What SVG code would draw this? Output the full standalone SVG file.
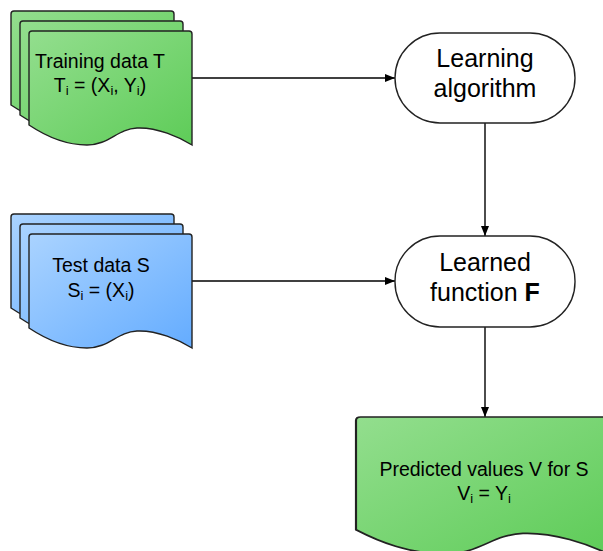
<svg xmlns="http://www.w3.org/2000/svg" width="603" height="551" viewBox="0 0 603 551">
  <defs>
    <linearGradient id="gGreen" x1="0" y1="0" x2="1" y2="1">
      <stop offset="0" stop-color="#93de8e"/>
      <stop offset="1" stop-color="#5ecc58"/>
    </linearGradient>
    <linearGradient id="gBlue" x1="0" y1="0" x2="1" y2="1">
      <stop offset="0" stop-color="#aad3ff"/>
      <stop offset="1" stop-color="#64acff"/>
    </linearGradient>
    <!-- document shape with wavy bottom, 163 x 114 -->
    <path id="doc" d="M0,3 Q0,0 3,0 H160 Q163,0 163,3 V114 C150,106 128,96 108,97 C88,98 80,114 58,114 C34,114 15,104 0,94 Z"/>
    <marker id="arrow" viewBox="0 0 10 10" refX="10" refY="5" markerWidth="10" markerHeight="10" markerUnits="userSpaceOnUse" orient="auto">
      <path d="M0,1 L10,5 L0,9 Z" fill="#000"/>
    </marker>
  </defs>
  <style>
    .doc { stroke: #222; stroke-width: 1.4; vector-effect: non-scaling-stroke; }
    .term { fill: #fff; stroke: #222; stroke-width: 1.4; }
    .conn { fill: none; stroke: #000; stroke-width: 1.4; marker-end: url(#arrow); }
    text { font-family: "Liberation Sans", Arial, sans-serif; fill: #000; text-anchor: middle; }
    .t19 { font-size: 19.5px; }
    .t24 { font-size: 25px; }
    .sub { font-size: 13px; }
  </style>

  <g id="connectors">
    <path class="conn" d="M192,78 H395"/>
    <path class="conn" d="M192,281 H395"/>
    <path class="conn" d="M485,123 V236"/>
    <path class="conn" d="M485,327 V417"/>
  </g>

  <g id="training-data">
    <use href="#doc" class="doc" fill="url(#gGreen)" transform="translate(11,11)"/>
    <use href="#doc" class="doc" fill="url(#gGreen)" transform="translate(20,21)"/>
    <use href="#doc" class="doc" fill="url(#gGreen)" transform="translate(29,31)"/>
    <text class="t19" x="100" y="68">Training data T</text>
    <text class="t19" x="100" y="92">T<tspan class="sub" dy="3">i</tspan><tspan dy="-3"> = (X</tspan><tspan class="sub" dy="3">i</tspan><tspan dy="-3">, Y</tspan><tspan class="sub" dy="3">i</tspan><tspan dy="-3">)</tspan></text>
  </g>

  <g id="test-data">
    <use href="#doc" class="doc" fill="url(#gBlue)" transform="translate(11,214)"/>
    <use href="#doc" class="doc" fill="url(#gBlue)" transform="translate(20,224)"/>
    <use href="#doc" class="doc" fill="url(#gBlue)" transform="translate(29,234)"/>
    <text class="t19" x="101" y="272">Test data S</text>
    <text class="t19" x="101" y="297">S<tspan class="sub" dy="3">i</tspan><tspan dy="-3"> = (X</tspan><tspan class="sub" dy="3">i</tspan><tspan dy="-3">)</tspan></text>
  </g>

  <g id="learning-algorithm">
    <rect class="term" x="395" y="33" width="180" height="90" rx="45" ry="45"/>
    <text class="t24" x="485" y="67">Learning</text>
    <text class="t24" x="485" y="97">algorithm</text>
  </g>

  <g id="learned-function">
    <rect class="term" x="395" y="236" width="180" height="91" rx="45" ry="45"/>
    <text class="t24" x="485" y="271">Learned</text>
    <text class="t24" x="485" y="301">function <tspan font-weight="bold">F</tspan></text>
  </g>

  <g id="predicted-values">
    <use href="#doc" class="doc" fill="url(#gGreen)" transform="translate(356,417) scale(1.546,1.2)"/>
    <text class="t19" x="484" y="476">Predicted values V for S</text>
    <text class="t19" x="484" y="500">V<tspan class="sub" dy="3">i</tspan><tspan dy="-3"> = Y</tspan><tspan class="sub" dy="3">i</tspan></text>
  </g>
</svg>
